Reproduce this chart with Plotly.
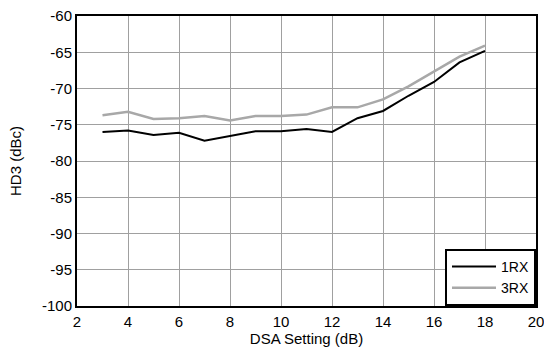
import plotly.graph_objects as go

dsa = [3, 4, 5, 6, 7, 8, 9, 10, 11, 12, 13, 14, 15, 16, 17, 18]
rx1 = [-76.0, -75.8, -76.4, -76.1, -77.2, -76.5, -75.9, -75.9, -75.6, -76.0, -74.1, -73.1, -71.0, -69.1, -66.4, -64.8]
rx3 = [-73.7, -73.2, -74.2, -74.1, -73.8, -74.4, -73.8, -73.8, -73.6, -72.6, -72.6, -71.5, -69.7, -67.7, -65.6, -64.1]

xticks = list(range(2, 21, 2))
yticks = list(range(-100, -59, 5))

fig = go.Figure()
fig.add_trace(go.Scatter(x=dsa, y=rx1, mode="lines", name="1RX",
                         line=dict(color="black", width=2)))
fig.add_trace(go.Scatter(x=dsa, y=rx3, mode="lines", name="3RX",
                         line=dict(color="#a8a8a8", width=2.5)))

ff = "Liberation Sans, Arial, sans-serif"
font = dict(family=ff, size=15, color="black")
fig.update_layout(
    width=544, height=352, autosize=False,
    margin=dict(l=77, r=8, t=16, b=46),
    paper_bgcolor="white", plot_bgcolor="white",
    font=font,
    showlegend=True,
    legend=dict(x=1, y=0, xanchor="right", yanchor="bottom",
                bgcolor="white", bordercolor="black", borderwidth=2,
                font=dict(family=ff, size=14),
                tracegroupgap=0, itemwidth=44),
)
fig.update_xaxes(range=[2, 20], tickvals=xticks, ticktext=[str(v) for v in xticks],
                 showgrid=True, gridcolor="#a0a0a0", gridwidth=1,
                 showline=True, linecolor="black", linewidth=2, mirror=True,
                 ticks="", zeroline=False, ticklabelstandoff=1, automargin=False,
                 ticklabeloverflow="allow",
                 title=dict(text="DSA Setting (dB)", font=dict(size=15), standoff=2))
fig.update_yaxes(range=[-100, -60], tickvals=yticks, ticktext=[str(v) for v in yticks],
                 showgrid=True, gridcolor="#a0a0a0", gridwidth=1,
                 showline=True, linecolor="black", linewidth=2, mirror=True,
                 ticks="", zeroline=False, automargin=False,
                 title=dict(text="HD3 (dBc)", font=dict(size=15), standoff=17))

fig.write_html(
    "out.html",
    config={"responsive": False, "displayModeBar": False},
    post_script="document.body.style.margin='0px'; document.body.style.overflow='hidden';",
)
